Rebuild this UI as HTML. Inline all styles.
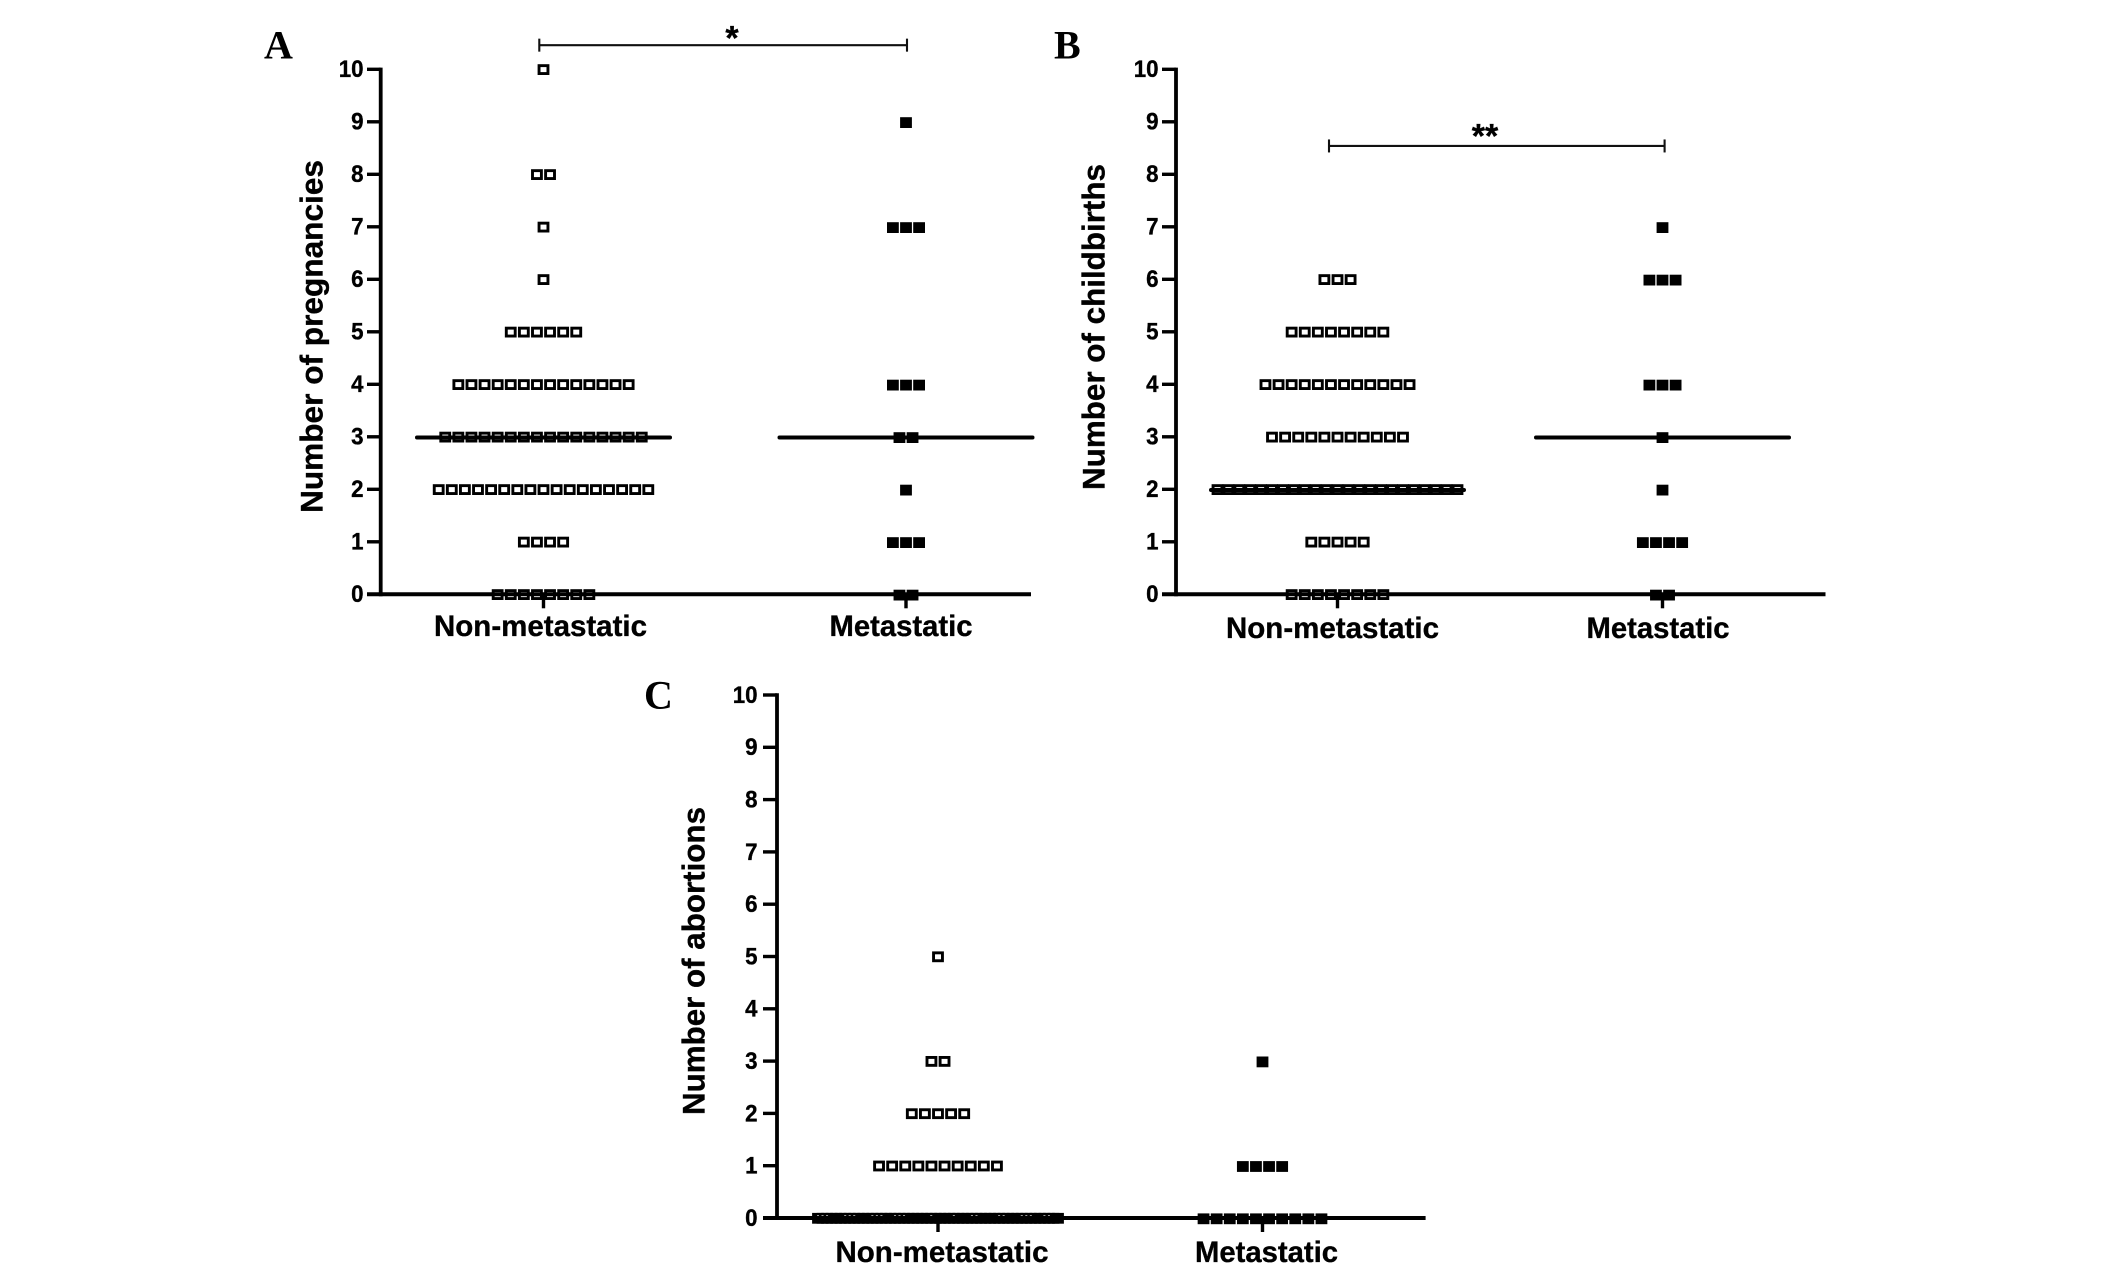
<!DOCTYPE html>
<html lang="en">
<head>
<meta charset="utf-8">
<title>Pregnancies, childbirths and abortions in non-metastatic and metastatic groups</title>
<style>
html,body{margin:0;padding:0;background:#fff;}
#figure{display:block;width:2126px;height:1271px;background:#fff;filter:blur(0.35px);}
text{fill:#000;}
.sans{font-family:"Liberation Sans",Arial,sans-serif;font-weight:700;stroke:#000;stroke-width:0.35px;}
.serif{font-family:"Liberation Serif","Times New Roman",serif;font-weight:700;}
</style>
</head>
<body>
<svg id="figure" xmlns="http://www.w3.org/2000/svg" width="2126" height="1271" viewBox="0 0 2126 1271">
<rect width="2126" height="1271" fill="#fff"/>
</svg>
<script>
/* ---------- data ---------- */
const categories = ['Non-metastatic', 'Metastatic'];
const yTickLabels = [0, 1, 2, 3, 4, 5, 6, 7, 8, 9, 10];

const pregnanciesNonMetastatic = [10,8,8,7,6,5,5,5,5,5,5,
  4,4,4,4,4,4,4,4,4,4,4,4,4,4,
  3,3,3,3,3,3,3,3,3,3,3,3,3,3,3,3,
  2,2,2,2,2,2,2,2,2,2,2,2,2,2,2,2,2,
  1,1,1,1,0,0,0,0,0,0,0,0];
const pregnanciesMetastatic = [9,7,7,7,4,4,4,3,3,2,1,1,1,0,0];
const pregnanciesMedians = [3, 3];
const pregnanciesSignificance = { from: 0, to: 1, value: 10.46, stars: '*' };

const childbirthsNonMetastatic = [6,6,6,5,5,5,5,5,5,5,5,
  4,4,4,4,4,4,4,4,4,4,4,4,
  3,3,3,3,3,3,3,3,3,3,3,
  2,2,2,2,2,2,2,2,2,2,2,2,2,2,2,2,2,2,2,2,2,2,2,
  1,1,1,1,1,0,0,0,0,0,0,0,0];
const childbirthsMetastatic = [7,6,6,6,4,4,4,3,2,1,1,1,1,0,0];
const childbirthsMedians = [2, 3];
const childbirthsSignificance = { from: 0, to: 1, value: 8.54, stars: '**' };

const abortionsNonMetastatic = [5,3,3,2,2,2,2,2,1,1,1,1,1,1,1,1,1,1,
  0,0,0,0,0,0,0,0,0,0,0,0,0,0,0,0,0,0,0,0,0,0,0,0,0,0,0,0,
  0,0,0,0,0,0,0,0,0,0,0,0,0,0,0,0,0,0,0,0,0,0,0,0,0,0];
const abortionsMetastatic = [3,1,1,1,1,0,0,0,0,0,0,0,0,0,0];
const abortionsMedians = [0, 0];

/* indices of the dense zero row whose interior stays visible in panel C */
const abortionsVisibleInteriors = [0,1,2,6,7,8,12,13,14,17,18,19,25,30,34,35,40,41,45,46,47,50,51];

/* ---------- layout ---------- */
const panels = [
  { letter:'A', slug:'pregnancies', title:'Number of pregnancies',
    series:[pregnanciesNonMetastatic, pregnanciesMetastatic], medians:pregnanciesMedians, sig:pregnanciesSignificance,
    axisX:380.7, tickStart:367, right:1031, y0:594.3, y10:69.3, groupX:[543.5,906],
    labelRight:363.5, titleX:322.5, titleY:336.5, titleLen:353, catBase:636, catX:[540.5,901],
    letterX:264, letterY:58.3, bracketX:[539.3,907], starX:732, starY:49.5 },
  { letter:'B', slug:'childbirths', title:'Number of childbirths',
    series:[childbirthsNonMetastatic, childbirthsMetastatic], medians:childbirthsMedians, sig:childbirthsSignificance,
    axisX:1176, tickStart:1162, right:1825.5, y0:594.3, y10:69.3, groupX:[1337.5,1662.5],
    labelRight:1158.5, titleX:1104.5, titleY:327, titleLen:326, catBase:638, catX:[1332.5,1658],
    letterX:1054, letterY:58.3, bracketX:[1329,1664.6], starX:1485, starY:147.5 },
  { letter:'C', slug:'abortions', title:'Number of abortions',
    series:[abortionsNonMetastatic, abortionsMetastatic], medians:abortionsMedians, sig:null,
    axisX:777, tickStart:763, right:1425.6, y0:1218, y10:695, groupX:[938,1262.5],
    labelRight:757.5, titleX:704.6, titleY:961, titleLen:308, catBase:1262, catX:[942,1266.5],
    letterX:644, letterY:708.7, bracketX:null, starX:0, starY:0 }
];

const STEP = 13.1, MAX_ROW = 240, MARK_W = 11.8, MARK_H = 10.8, STROKE = 2.9, MEDIAN_HALF = 126.5;
const NS = 'http://www.w3.org/2000/svg';
const root = document.getElementById('figure');

function make(parent, tag, attrs, content) {
  const node = document.createElementNS(NS, tag);
  for (const k in attrs) node.setAttribute(k, attrs[k]);
  if (content !== undefined) node.textContent = content;
  parent.appendChild(node);
  return node;
}

function drawPanel(p) {
  const g = make(root, 'g', {});
  
  
  const yPos = v => p.y0 + (p.y10 - p.y0) * v / 10;

  const letter = make(g, 'text', { x:p.letterX, y:p.letterY, class:'serif', 'font-size':40 }, p.letter);
  
  

  const title = make(g, 'text', { x:p.titleX, y:p.titleY, class:'sans', 'font-size':31.6, 'text-anchor':'middle',
    textLength:p.titleLen, lengthAdjust:'spacingAndGlyphs', transform:'rotate(-90 ' + p.titleX + ' ' + p.titleY + ')' }, p.title);
  
  

  /* markers */
  p.series.forEach((values, s) => {
    const filled = s === 1;
    const rows = {};
    values.forEach(v => { rows[v] = (rows[v] || 0) + 1; });
    Object.keys(rows).forEach(key => {
      const v = Number(key), n = rows[key];
      const step = n > 1 ? Math.min(STEP, MAX_ROW / (n - 1)) : 0;
      const dense = step > 0 && step < 6;
      for (let i = 0; i < n; i++) {
        const cx = p.groupX[s] + (i - (n - 1) / 2) * step;
        const cy = yPos(v) + (filled ? 0.8 : 0.3);
        let m;
        if (filled || dense) {
          m = make(g, 'rect', { x:cx - MARK_W / 2, y:cy - MARK_H / 2, width:MARK_W, height:MARK_H, fill:'#000' });
        } else {
          m = make(g, 'rect', { x:cx - MARK_W / 2 + STROKE / 2, y:cy - MARK_H / 2 + STROKE / 2,
            width:MARK_W - STROKE, height:MARK_H - STROKE, fill:'#fff', stroke:'#000', 'stroke-width':STROKE });
        }
        
        
      }
      if (dense) {
        abortionsVisibleInteriors.forEach(i => {
          if (i >= n) return;
          const cx = p.groupX[s] + (i - (n - 1) / 2) * step;
          const dot = make(g, 'rect', { x:cx - 1, y:yPos(v) - 2.6, width:2, height:1.8, fill:'#fff' });
          
          
        });
      }
    });
  });

  /* median lines */
  p.medians.forEach((v, s) => {
    const my = v === 0 ? yPos(v) : yPos(v) + 0.7;
    const line = make(g, 'line', { x1:p.groupX[s] - MEDIAN_HALF, x2:p.groupX[s] + MEDIAN_HALF, y1:my, y2:my,
      stroke:'#000', 'stroke-width':4, 'stroke-linecap':'round' });
    
    
  });

  /* axes */
  const yAxis = make(g, 'line', { x1:p.axisX, x2:p.axisX, y1:p.y10 - 1.7, y2:p.y0 + 2, stroke:'#000', 'stroke-width':3.8 });
  
  
  const xAxis = make(g, 'line', { x1:p.tickStart, x2:p.right, y1:p.y0, y2:p.y0, stroke:'#000', 'stroke-width':4 });
  
  

  yTickLabels.forEach(t => {
    const tick = make(g, 'line', { x1:p.tickStart, x2:p.axisX, y1:yPos(t), y2:yPos(t), stroke:'#000', 'stroke-width':3.4 });
    
    
    const label = make(g, 'text', { x:p.labelRight, y:yPos(t) + 7.9, class:'sans', 'font-size':24, 'text-anchor':'end',
      textLength:String(t).length * 12.4, lengthAdjust:'spacingAndGlyphs' }, String(t));
    
    
  });

  categories.forEach((c, s) => {
    const tick = make(g, 'line', { x1:p.groupX[s], x2:p.groupX[s], y1:p.y0, y2:p.y0 + 14, stroke:'#000', 'stroke-width':3.4 });
    
    
    const label = make(g, 'text', { x:p.catX[s], y:p.catBase, class:'sans', 'font-size':30, 'text-anchor':'middle',
      textLength:s === 0 ? 213 : 143, lengthAdjust:'spacingAndGlyphs' }, c);
    
    
  });

  /* significance bracket */
  if (p.sig) {
    const by = yPos(p.sig.value);
    const bar = make(g, 'line', { x1:p.bracketX[0], x2:p.bracketX[1], y1:by, y2:by, stroke:'#111', 'stroke-width':2.1 });
    
    
    p.bracketX.forEach(x => {
      const cap = make(g, 'line', { x1:x, x2:x, y1:by - 6.5, y2:by + 6.5, stroke:'#111', 'stroke-width':2.1 });
      
      
    });
    const star = make(g, 'text', { x:p.starX, y:p.starY, class:'sans', 'font-size':34, 'text-anchor':'middle' }, p.sig.stars);
    
    
  }
}

panels.forEach(drawPanel);
</script>
</body>
</html>
